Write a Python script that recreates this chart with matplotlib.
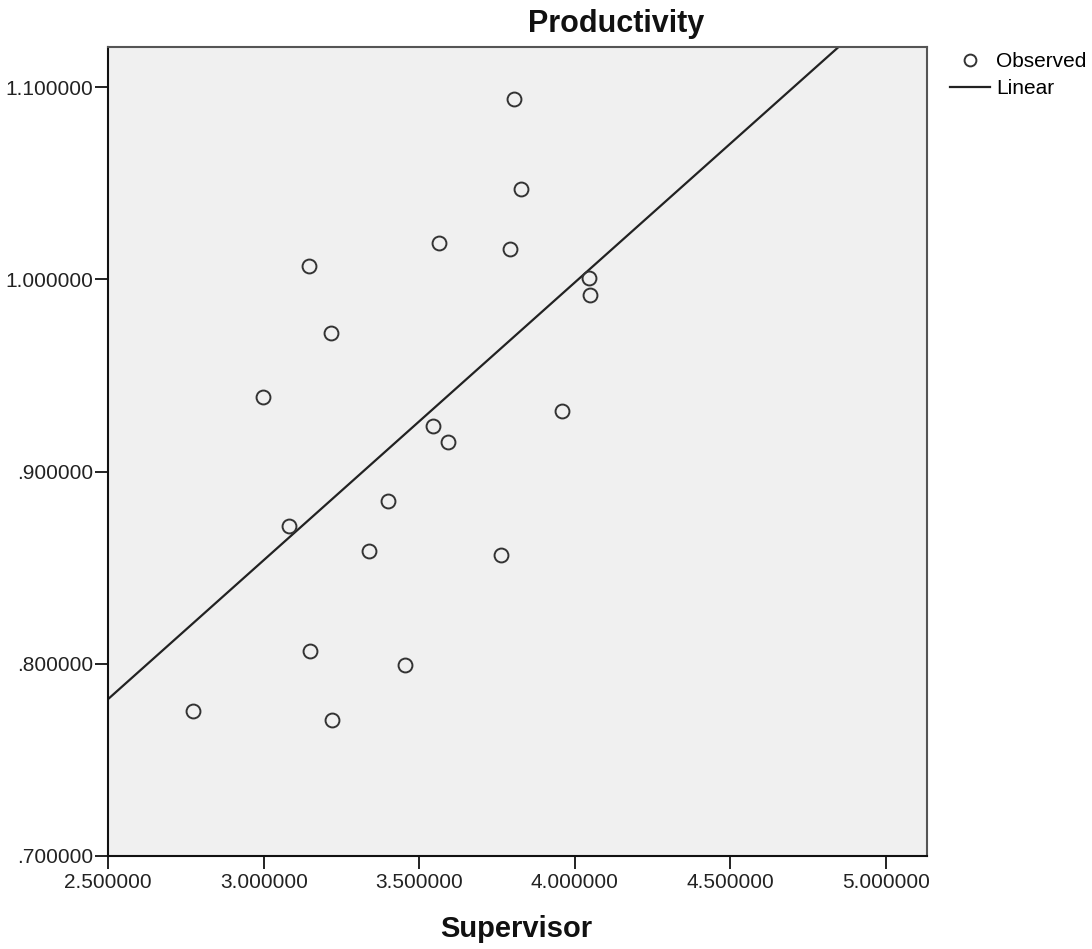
import matplotlib
matplotlib.use("Agg")
import matplotlib.pyplot as plt
import numpy as np
from matplotlib.ticker import FuncFormatter

# =========================
# DATA
# =========================

supervisor = [3.803, 3.827, 3.564, 3.790, 3.144, 4.044, 4.050, 3.215, 2.996, 3.957,
              3.545, 3.592, 3.399, 3.080, 3.337, 3.762, 3.148, 3.454, 2.772, 3.220]

productivity = [1.0939, 1.0469, 1.0191, 1.0159, 1.0069, 1.0008, 0.9917, 0.9719, 0.9387, 0.9318,
                0.9238, 0.9156, 0.8847, 0.8717, 0.8586, 0.8566, 0.8066, 0.7996, 0.7757, 0.7706]

x_ticks = [2.5, 3.0, 3.5, 4.0, 4.5, 5.0]
y_ticks = [0.7, 0.8, 0.9, 1.0, 1.1]

x_range = (2.5, 5.131)
y_range = (0.7, 1.1211)

plt.rcParams["font.family"] = ["Liberation Sans", "DejaVu Sans"]

# =========================
# SPSS STYLE LABELS
# =========================

def spss_label(v, pos=None):
    s = "%.6f" % v
    if s.startswith("0"):
        s = s[1:]
    return s


# =========================
# FIGURE
# =========================

fig = plt.figure(figsize=(10.92, 9.49), dpi=100)

ax = fig.add_axes([108.3/1092, 1-856/949, (926.7-108.3)/1092, (856-46.7)/949])

ax.set_facecolor("#F0F0F0")

slope, intercept = np.polyfit(supervisor, productivity, 1)

fit_x = np.array(x_range)

ax.plot(supervisor, productivity, linestyle="none", marker="o",
        markerfacecolor="none", markeredgecolor="#333333",
        markersize=10, markeredgewidth=1.4, label="Observed", zorder=3)

ax.plot(fit_x, intercept + slope*fit_x, color="#222222",
        linewidth=1.6, label="Linear", zorder=2)

ax.set_xlim(*x_range)
ax.set_ylim(*y_range)

ax.set_xticks(x_ticks)
ax.set_yticks(y_ticks)

ax.xaxis.set_major_formatter(FuncFormatter(spss_label))
ax.yaxis.set_major_formatter(FuncFormatter(spss_label))

ax.tick_params(direction="out", length=9.5, width=1.4, labelsize=15,
               colors="#222222")
ax.tick_params(axis="x", pad=3)
ax.tick_params(axis="y", pad=1.5)

for side in ["left", "bottom"]:
    ax.spines[side].set_color("#111111")
    ax.spines[side].set_linewidth(1.5)

for side in ["top", "right"]:
    ax.spines[side].set_color("#555555")
    ax.spines[side].set_linewidth(1.5)

# title and axis title sit where SPSS puts them
fig.text(616/1092, 1-31.7/949, "Productivity", ha="center", va="baseline",
         fontsize=22, fontweight="bold", color="#111111")

fig.text(516.5/1092, 1-937/949, "Supervisor", ha="center", va="baseline",
         fontsize=21, fontweight="bold", color="#111111")

ax.legend(loc="upper left", bbox_to_anchor=(950/1092, 1-52/949),
          bbox_transform=fig.transFigure, frameon=False, fontsize=15,
          borderpad=0, borderaxespad=0, handlelength=1.9,
          handletextpad=0.3, labelspacing=0.4, markerscale=0.85)

fig.savefig("out.png", dpi=100)
